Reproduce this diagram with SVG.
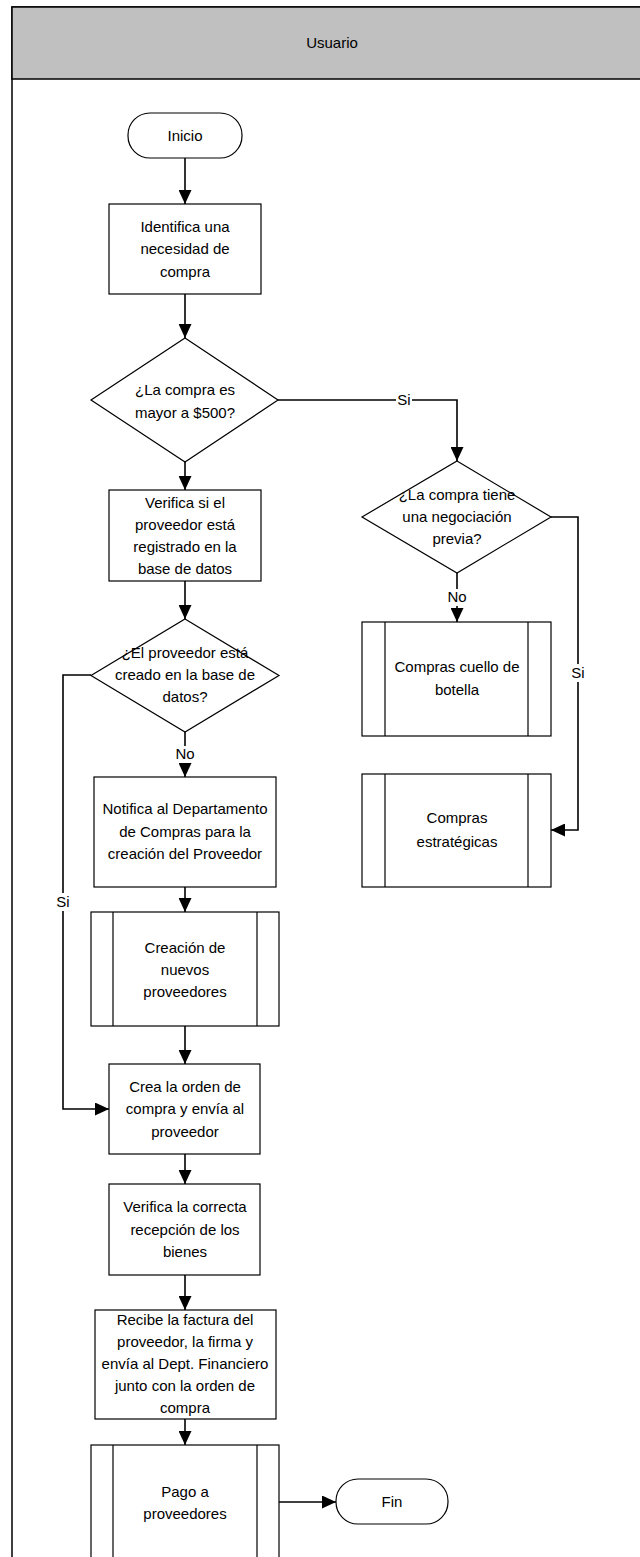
<svg xmlns="http://www.w3.org/2000/svg" width="640" height="1557" viewBox="0 0 640 1557">
  <style>
    .lane { fill: #ffffff; stroke: #000000; stroke-width: 1.5; }
    .lane-head { fill: #c0c0c0; stroke: #000000; stroke-width: 1.5; }
    .shape { fill: #ffffff; stroke: #000000; stroke-width: 1.2; }
    .bar { stroke: #000000; stroke-width: 1.2; fill: none; }
    .txt { font-family: "Liberation Sans", Arial, sans-serif; font-size: 15px; fill: #000000; text-anchor: middle; }
    .edge { fill: none; stroke: #000000; stroke-width: 1.6; }
    .lblbg { fill: #ffffff; stroke: none; }
  </style>
  <defs>
    <marker id="arrow" markerUnits="userSpaceOnUse" markerWidth="14" markerHeight="13" refX="14" refY="6.5" orient="auto">
      <path d="M0,0 L14,6.5 L0,13 z" fill="#000000"/>
    </marker>
  </defs>

  <!-- swimlane -->
  <g id="lane">
    <rect class="lane" x="12" y="7" width="640" height="1565"/>
    <rect class="lane-head" x="12" y="7" width="640" height="72"/>
    <text class="txt" x="332" y="48">Usuario</text>
  </g>

  <!-- connectors -->
  <g id="connectors">
    <path class="edge" d="M185,158 V204" marker-end="url(#arrow)"/>
    <path class="edge" d="M185,294 V338" marker-end="url(#arrow)"/>
    <path class="edge" d="M278,400 H457 V461" marker-end="url(#arrow)"/>
    <path class="edge" d="M185,462 V490" marker-end="url(#arrow)"/>
    <path class="edge" d="M185,581 V619" marker-end="url(#arrow)"/>
    <path class="edge" d="M185,732 V777" marker-end="url(#arrow)"/>
    <path class="edge" d="M91,675 H63 V1109 H109" marker-end="url(#arrow)"/>
    <path class="edge" d="M185,887 V912" marker-end="url(#arrow)"/>
    <path class="edge" d="M185,1026 V1064" marker-end="url(#arrow)"/>
    <path class="edge" d="M185,1154 V1184" marker-end="url(#arrow)"/>
    <path class="edge" d="M185,1275 V1310" marker-end="url(#arrow)"/>
    <path class="edge" d="M185,1419 V1445" marker-end="url(#arrow)"/>
    <path class="edge" d="M279,1502 H336" marker-end="url(#arrow)"/>
    <path class="edge" d="M457,573 V622" marker-end="url(#arrow)"/>
    <path class="edge" d="M551,517 H578 V830 H551" marker-end="url(#arrow)"/>

    <!-- branch labels -->
    <rect class="lblbg" x="396" y="392" width="16" height="16"/>
    <text class="txt" x="404" y="405">Si</text>
    <rect class="lblbg" x="571" y="664" width="15" height="18"/>
    <text class="txt" x="578" y="678">Si</text>
    <rect class="lblbg" x="56" y="893" width="15" height="18"/>
    <text class="txt" x="63" y="907">Si</text>
    <rect class="lblbg" x="447" y="589" width="20" height="17"/>
    <text class="txt" x="457" y="602">No</text>
    <rect class="lblbg" x="175" y="746" width="20" height="17"/>
    <text class="txt" x="185" y="759">No</text>
  </g>

  <g id="inicio">
    <rect class="shape" x="128" y="113" width="114" height="45" rx="22" ry="22"/>
    <text class="txt" x="185" y="141">Inicio</text>
  </g>

  <g id="identifica">
    <rect class="shape" x="109" y="204" width="152" height="90"/>
    <text class="txt" x="185" y="232">Identifica una</text>
    <text class="txt" x="185" y="254">necesidad de</text>
    <text class="txt" x="185" y="277">compra</text>
  </g>

  <g id="decision-monto">
    <polygon class="shape" points="185,338 278,400 185,462 91,400"/>
    <text class="txt" x="185" y="395">¿La compra es</text>
    <text class="txt" x="185" y="418">mayor a $500?</text>
  </g>

  <g id="verifica-proveedor">
    <rect class="shape" x="109" y="490" width="152" height="91"/>
    <text class="txt" x="185" y="508">Verifica si el</text>
    <text class="txt" x="185" y="530">proveedor está</text>
    <text class="txt" x="185" y="552">registrado en la</text>
    <text class="txt" x="185" y="574">base de datos</text>
  </g>

  <g id="decision-proveedor">
    <polygon class="shape" points="185,619 279,675.5 185,732 91,675.5"/>
    <text class="txt" x="185" y="658">¿El proveedor está</text>
    <text class="txt" x="185" y="680">creado en la base de</text>
    <text class="txt" x="185" y="702">datos?</text>
  </g>

  <g id="notifica">
    <rect class="shape" x="94" y="777" width="182" height="110"/>
    <text class="txt" x="185" y="814">Notifica al Departamento</text>
    <text class="txt" x="185" y="837">de Compras para la</text>
    <text class="txt" x="185" y="859">creación del Proveedor</text>
  </g>

  <g id="creacion-proveedores">
    <rect class="shape" x="91" y="912" width="188" height="114"/>
    <line class="bar" x1="113" y1="912" x2="113" y2="1026"/>
    <line class="bar" x1="257" y1="912" x2="257" y2="1026"/>
    <text class="txt" x="185" y="953">Creación de</text>
    <text class="txt" x="185" y="975">nuevos</text>
    <text class="txt" x="185" y="997">proveedores</text>
  </g>

  <g id="crea-orden">
    <rect class="shape" x="109" y="1064" width="151" height="90"/>
    <text class="txt" x="185" y="1092">Crea la orden de</text>
    <text class="txt" x="185" y="1114">compra y envía al</text>
    <text class="txt" x="185" y="1137">proveedor</text>
  </g>

  <g id="verifica-recepcion">
    <rect class="shape" x="109" y="1184" width="151" height="91"/>
    <text class="txt" x="185" y="1212">Verifica la correcta</text>
    <text class="txt" x="185" y="1235">recepción de los</text>
    <text class="txt" x="185" y="1257">bienes</text>
  </g>

  <g id="recibe-factura">
    <rect class="shape" x="95" y="1310" width="181" height="109"/>
    <text class="txt" x="185" y="1325">Recibe la factura del</text>
    <text class="txt" x="185" y="1347">proveedor, la firma y</text>
    <text class="txt" x="185" y="1369">envía al Dept. Financiero</text>
    <text class="txt" x="185" y="1391">junto con la orden de</text>
    <text class="txt" x="185" y="1413">compra</text>
  </g>

  <g id="pago-proveedores">
    <rect class="shape" x="91" y="1445" width="188" height="115"/>
    <line class="bar" x1="113" y1="1445" x2="113" y2="1560"/>
    <line class="bar" x1="257" y1="1445" x2="257" y2="1560"/>
    <text class="txt" x="185" y="1497">Pago a</text>
    <text class="txt" x="185" y="1519">proveedores</text>
  </g>

  <g id="fin">
    <rect class="shape" x="336" y="1479" width="112" height="45" rx="22" ry="22"/>
    <text class="txt" x="392" y="1507">Fin</text>
  </g>

  <g id="decision-negociacion">
    <polygon class="shape" points="457,461 551,517 457,573 362,517"/>
    <text class="txt" x="457" y="500">¿La compra tiene</text>
    <text class="txt" x="457" y="522">una negociación</text>
    <text class="txt" x="457" y="544">previa?</text>
  </g>

  <g id="compras-cuello">
    <rect class="shape" x="362" y="622" width="189" height="114"/>
    <line class="bar" x1="385" y1="622" x2="385" y2="736"/>
    <line class="bar" x1="528" y1="622" x2="528" y2="736"/>
    <text class="txt" x="457" y="672">Compras cuello de</text>
    <text class="txt" x="457" y="695">botella</text>
  </g>

  <g id="compras-estrategicas">
    <rect class="shape" x="362" y="774" width="189" height="113"/>
    <line class="bar" x1="385" y1="774" x2="385" y2="887"/>
    <line class="bar" x1="528" y1="774" x2="528" y2="887"/>
    <text class="txt" x="457" y="823">Compras</text>
    <text class="txt" x="457" y="847">estratégicas</text>
  </g>
</svg>
